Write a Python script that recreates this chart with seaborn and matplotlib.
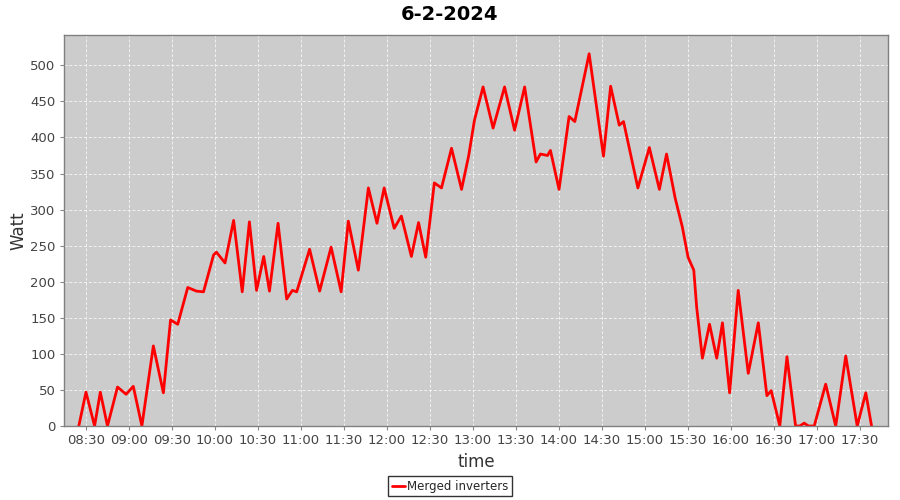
import matplotlib
matplotlib.use('Agg')
import matplotlib.dates as mdates
import matplotlib.pyplot as plt
import pandas as pd
import seaborn as sns

# readings (turning points of the curve)
times = ['08:25', '08:30', '08:36', '08:40', '08:45', '08:52', '08:58', '09:03', '09:09', '09:17',
         '09:24', '09:29', '09:34', '09:41', '09:47', '09:52', '09:59', '10:01', '10:07', '10:13',
         '10:19', '10:24', '10:29', '10:34', '10:38', '10:44', '10:50', '10:54', '10:57', '11:06',
         '11:13', '11:21', '11:28', '11:33', '11:40', '11:47', '11:53', '11:58', '12:05', '12:10',
         '12:17', '12:22', '12:27', '12:33', '12:38', '12:45', '12:52', '12:57', '13:01', '13:07',
         '13:14', '13:22', '13:29', '13:36', '13:44', '13:47', '13:52', '13:54', '14:00', '14:07',
         '14:11', '14:21', '14:31', '14:36', '14:42', '14:45', '14:55', '15:03', '15:10', '15:15',
         '15:21', '15:26', '15:30', '15:34', '15:36', '15:40', '15:45', '15:50', '15:54', '15:59',
         '16:05', '16:12', '16:19', '16:25', '16:28', '16:34', '16:39', '16:45', '16:48', '16:51',
         '16:54', '16:58', '17:06', '17:13', '17:20', '17:28', '17:34', '17:38']
watt = [0, 47, 0, 47, 0, 54, 44, 55, 0, 111,
        46, 147, 141, 192, 187, 186, 237, 241, 226, 285,
        186, 283, 188, 235, 187, 281, 176, 188, 186, 245,
        187, 248, 186, 284, 216, 330, 281, 330, 274, 291,
        235, 282, 234, 337, 330, 385, 328, 375, 424, 470,
        413, 470, 410, 470, 366, 377, 375, 382, 328, 429,
        422, 516, 374, 471, 417, 422, 330, 386, 328, 377,
        316, 276, 234, 216, 165, 94, 141, 94, 143, 46,
        188, 73, 143, 42, 49, 0, 96, 0, 0, 4,
        0, 0, 58, 0, 97, 0, 46, 0]

day = '2024-02-06 '
df = pd.DataFrame({'time': pd.to_datetime([day + t for t in times]), 'Watt': watt})

sns.set_theme(style='darkgrid')
plt.rcParams['font.family'] = ['DejaVu Sans']

fig = plt.figure(figsize=(9, 5), dpi=100)
ax = fig.add_axes([0.0711, 0.148, 0.9156, 0.782])
ax.set_facecolor('#cccccc')

sns.lineplot(data=df, x='time', y='Watt', color='#ff0000', linewidth=2,
             label='Merged inverters', ax=ax, legend=False)

ax.set_xlim(pd.Timestamp(day + '08:14:40'), pd.Timestamp(day + '17:49:30'))
ax.set_ylim(0, 542)
ax.set_yticks(range(0, 501, 50))
ax.xaxis.set_major_locator(mdates.MinuteLocator(byminute=[0, 30]))
ax.xaxis.set_major_formatter(mdates.DateFormatter('%H:%M'))

ax.grid(True, color='#f2f2f2', linestyle=(0, (3, 2)), linewidth=0.7)
for s in ax.spines.values():
    s.set_visible(True)
    s.set_color('#808080')
    s.set_linewidth(1)
ax.tick_params(axis='both', labelsize=9.5, colors='#888888', labelcolor='#444444',
               length=3, width=0.8, direction='out', pad=3, left=True, bottom=True)

fig.text(0.5, 0.972, '6-2-2024', ha='center', va='center', fontsize=14,
         fontweight='bold', color='black')
ax.set_xlabel('time', fontsize=12, color='#333333', labelpad=4)
ax.set_ylabel('Watt', fontsize=12, color='#333333', labelpad=2)

handles, labels = ax.get_legend_handles_labels()
leg = fig.legend(handles, labels, loc='lower center', bbox_to_anchor=(0.5, 0.0),
                 fontsize=8.5, frameon=True, fancybox=False, handlelength=1.1,
                 borderpad=0.3, handletextpad=0.2, borderaxespad=0.3)
leg.get_frame().set_edgecolor('black')
leg.get_frame().set_facecolor('white')
leg.get_frame().set_linewidth(1)

fig.savefig('out.png', dpi=100, facecolor='white')
